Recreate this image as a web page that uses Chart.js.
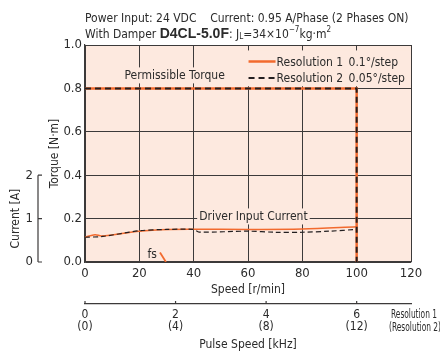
<!DOCTYPE html>
<html>
<head>
<meta charset="utf-8">
<script src="https://cdn.jsdelivr.net/npm/chart.js@4.4.0/dist/chart.umd.min.js"></script>
<style>
  html, body { margin: 0; padding: 0; background: #fff; }
</style>
</head>
<body>
<canvas id="chart" width="440" height="351"></canvas>
<script>
// --- data ---
const speedTicks = [0, 20, 40, 60, 80, 100, 120];
const torqueTicks = [0, 0.2, 0.4, 0.6, 0.8, 1.0];
const currentTicks = [0, 1, 2];
const pulseTicks = [0, 2, 4, 6];
const pulseTicksRes2 = ["(0)", "(4)", "(8)", "(12)"];

const torqueSpeed = [0, 100, 100];
const torqueRes1 = [0.8, 0.8, 0];
const torqueRes2 = [0.8, 0.8, 0];

const currentSpeed1 = [0, 3.7, 6.1, 20, 31, 40, 60, 80, 100];
const currentRes1 = [0.57, 0.63, 0.6, 0.71, 0.75, 0.755, 0.75, 0.76, 0.81];
const currentSpeed2 = [0, 6.6, 20, 30, 40, 42, 60, 70, 80, 90, 100];
const currentRes2 = [0.57, 0.59, 0.72, 0.75, 0.75, 0.69, 0.71, 0.685, 0.685, 0.71, 0.75];

const fsSpeed = [27.6, 29.8];
const fsTorque = [0.044, 0];

const ORANGE = "#f26a2e";
const DARK = "#231f20";
const GRID = "#3c3a3a";
const PLOT_BG = "#fde9df";
const TXT = "#2b2b2b";
const NARROW = "'DejaVu Sans Condensed', 'Liberation Sans', sans-serif";
const F = "12px " + NARROW;

const pts = (xs, ys) => xs.map((x, i) => ({ x, y: ys[i] }));
const fixTicks = list => scale => { scale.ticks = list.map(v => ({ value: v })); };

function textRuns(ctx, x, y, runs) {
  ctx.textAlign = "left";
  ctx.textBaseline = "alphabetic";
  runs.forEach(r => {
    ctx.font = r.font;
    ctx.fillText(r.t, x, y + (r.dy || 0));
    x += ctx.measureText(r.t).width;
  });
}

function boxedLabel(ctx, text, cx, cy, padX) {
  ctx.font = F;
  const w = ctx.measureText(text).width;
  ctx.fillStyle = PLOT_BG;
  ctx.fillRect(cx - w / 2 - padX, cy - 8, w + padX * 2, 16);
  ctx.fillStyle = TXT;
  ctx.textAlign = "center";
  ctx.textBaseline = "middle";
  ctx.fillText(text, cx, cy);
}

const decor = {
  id: "decor",
  beforeDraw(chart) {
    const { ctx, chartArea: a } = chart;
    ctx.save();
    ctx.fillStyle = PLOT_BG;
    ctx.fillRect(a.left, a.top, a.right - a.left, a.bottom - a.top);
    ctx.restore();
  },
  beforeDatasetsDraw(chart) {
    const { ctx, scales } = chart;
    const sx = scales.x, sy = scales.y;
    ctx.save();
    // labels on the plot
    boxedLabel(ctx, "Permissible Torque", sx.getPixelForValue(33), sy.getPixelForValue(0.86), 2);
    boxedLabel(ctx, "Driver Input Current", sx.getPixelForValue(62), sy.getPixelForValue(0.21), 2);

    // legend
    const lx = sx.getPixelForValue(60.2);
    ctx.fillStyle = PLOT_BG;
    ctx.fillRect(lx - 8, sy.getPixelForValue(0.975), chart.chartArea.right - lx + 7, sy.getPixelForValue(0.81) - sy.getPixelForValue(0.975));
    const rows = [
      { ds: chart.data.datasets[0], a: "Resolution 1", b: "0.1°/step", y: 61.5 },
      { ds: chart.data.datasets[1], a: "Resolution 2", b: "0.05°/step", y: 78 }
    ];
    rows.forEach(r => {
      ctx.strokeStyle = r.ds.borderColor;
      ctx.lineWidth = r.ds.borderWidth;
      ctx.setLineDash(r.ds.borderDash || []);
      ctx.beginPath();
      ctx.moveTo(lx, r.y);
      ctx.lineTo(lx + 27, r.y);
      ctx.stroke();
      ctx.setLineDash([]);
      ctx.fillStyle = TXT;
      ctx.font = F;
      ctx.textAlign = "left";
      ctx.textBaseline = "middle";
      ctx.fillText(r.a, lx + 28, r.y + 1);
      ctx.fillText(r.b, lx + 100, r.y + 1);
    });
    ctx.restore();
  },
  afterDraw(chart) {
    const { ctx, scales, chartArea: a } = chart;
    ctx.save();
    ctx.fillStyle = TXT;

    // header
    textRuns(ctx, a.left, 22, [
      { t: "Power Input: 24 VDC    Current: 0.95 A/Phase (2 Phases ON)", font: F }
    ]);
    textRuns(ctx, a.left, 38, [
      { t: "With Damper ", font: F },
      { t: "D4CL-5.0F", font: "bold 14px 'Liberation Sans', Arial, sans-serif" },
      { t: ": J", font: F },
      { t: "L", font: "8px " + NARROW, dy: 1 },
      { t: "=34×10", font: F },
      { t: "−7", font: "8px " + NARROW, dy: -6 },
      { t: "kg·m", font: F },
      { t: "2", font: "8px " + NARROW, dy: -6 }
    ]);

    // current axis line with inward ticks
    const yc = scales.yCur;
    const ax = 38;
    ctx.strokeStyle = GRID;
    ctx.lineWidth = 1.2;
    ctx.beginPath();
    ctx.moveTo(ax, yc.getPixelForValue(0));
    ctx.lineTo(ax, yc.getPixelForValue(2));
    currentTicks.forEach(v => {
      const p = yc.getPixelForValue(v);
      ctx.moveTo(ax, p);
      ctx.lineTo(ax + 4, p);
    });
    ctx.stroke();
    ctx.save();
    ctx.translate(16, yc.getPixelForValue(1));
    ctx.rotate(-Math.PI / 2);
    ctx.font = F;
    ctx.textAlign = "center";
    ctx.textBaseline = "middle";
    ctx.fillText("Current [A]", 0, 0);
    ctx.restore();

    // fs label
    ctx.font = F;
    ctx.textAlign = "left";
    ctx.textBaseline = "middle";
    ctx.fillText("fs", scales.x.getPixelForValue(23), scales.y.getPixelForValue(0.035));

    // pulse axis tick stubs and resolution note
    const sp = scales.pulse;
    ctx.beginPath();
    pulseTicks.forEach(v => {
      const p = sp.getPixelForValue(v);
      ctx.moveTo(p, sp.top);
      ctx.lineTo(p, sp.top - 3);
    });
    ctx.stroke();
    ctx.font = "12px " + NARROW;
    ctx.fillText("Resolution 1", 391, 314.5, 46);
    ctx.fillText("(Resolution 2)", 389, 328, 52);
    ctx.restore();
  }
};

const tickFont = { family: NARROW, size: 13 };

new Chart(document.getElementById("chart"), {
  type: "line",
  data: {
    datasets: [
      { label: "Resolution 1", data: pts(torqueSpeed, torqueRes1), borderColor: ORANGE, borderWidth: 2.5, order: 1, xAxisID: "x", yAxisID: "y" },
      { label: "Resolution 2", data: pts(torqueSpeed, torqueRes2), borderColor: DARK, borderWidth: 2, borderDash: [6, 4], order: 0, xAxisID: "x", yAxisID: "y" },
      { label: "Current 1", data: pts(currentSpeed1, currentRes1), borderColor: ORANGE, borderWidth: 1.5, tension: 0.3, order: 3, xAxisID: "x", yAxisID: "yCur" },
      { label: "Current 2", data: pts(currentSpeed2, currentRes2), borderColor: DARK, borderWidth: 1.2, borderDash: [5, 3], tension: 0.3, order: 2, xAxisID: "x", yAxisID: "yCur" },
      { label: "fs", data: pts(fsSpeed, fsTorque), borderColor: ORANGE, borderWidth: 1.8, order: 4, xAxisID: "x", yAxisID: "y" }
    ]
  },
  options: {
    responsive: false,
    animation: false,
    devicePixelRatio: 1,
    layout: { padding: { top: 45, right: 29, left: 0, bottom: 0 } },
    elements: { point: { radius: 0 }, line: { fill: false } },
    plugins: {
      legend: { display: false },
      tooltip: { enabled: false },
      title: { display: false }
    },
    scales: {
      x: {
        type: "linear", min: 0, max: 120, position: "bottom", weight: 0,
        afterBuildTicks: fixTicks(speedTicks),
        afterFit: s => { s.height = 42; },
        grid: { color: GRID, lineWidth: 1, drawTicks: false },
        border: { display: true, color: GRID, width: 1.2 },
        ticks: { padding: 4, color: TXT, font: tickFont },
        title: { display: true, text: "Speed [r/min]", color: TXT, font: { family: NARROW, size: 12 }, padding: { top: 0, bottom: 7 } }
      },
      pulse: {
        type: "linear", min: 0, max: 7.2, position: "bottom", weight: 1,
        afterBuildTicks: fixTicks(pulseTicks),
        afterFit: s => { s.height = 47; },
        grid: { display: false, drawTicks: false },
        border: { display: true, color: GRID, width: 1.2 },
        ticks: {
          padding: 5, color: TXT, font: { family: NARROW, size: 12, lineHeight: 1 },
          callback: (v, i) => [String(v), pulseTicksRes2[i]]
        },
        title: { display: true, text: "Pulse Speed [kHz]", color: TXT, font: { family: NARROW, size: 12, lineHeight: 1 }, padding: { top: 0, bottom: 0 } }
      },
      y: {
        min: 0, max: 1, position: "left", weight: 0,
        afterBuildTicks: fixTicks(torqueTicks),
        afterFit: s => { s.width = 40; },
        grid: { color: GRID, lineWidth: 1, drawTicks: false },
        border: { display: true, color: GRID, width: 1.2 },
        ticks: { padding: 3, color: TXT, font: tickFont, callback: v => v.toFixed(1) },
        title: { display: true, text: "Torque [N·m]", color: TXT, font: { family: NARROW, size: 12 }, padding: { top: 3, bottom: 0 } }
      },
      yCur: {
        min: 0, max: 5, position: "left", weight: 1,
        afterBuildTicks: fixTicks(currentTicks),
        afterFit: s => { s.width = 45; },
        grid: { display: false, drawTicks: false },
        border: { display: false },
        ticks: { padding: 12, color: TXT, font: tickFont }
      }
    }
  },
  plugins: [decor]
});
</script>
</body>
</html>
